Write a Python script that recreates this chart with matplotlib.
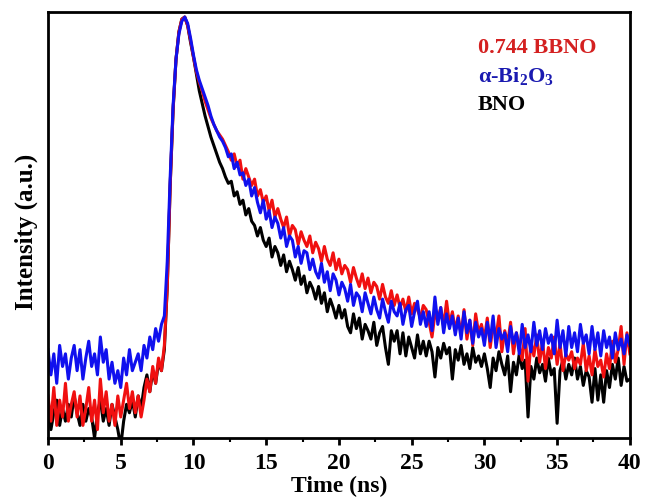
import numpy as np
import matplotlib
matplotlib.use('Agg')
import matplotlib.pyplot as plt
from matplotlib.ticker import MultipleLocator

plt.rcParams['font.family'] = 'Liberation Serif'
plt.rcParams['font.weight'] = 'bold'
plt.rcParams['mathtext.fontset'] = 'custom'
plt.rcParams['mathtext.bf'] = 'Liberation Serif:bold'
plt.rcParams['mathtext.rm'] = 'Liberation Serif:bold'
plt.rcParams['mathtext.default'] = 'bf'

# time channels, 0.2 ns apart
tempo = np.arange(0, 40.001, 0.2)

# 0.744 BBNO
bbno = [
    0.10, 0.04, 0.12, 0.03, 0.09, 0.05, 0.13, 0.04, 0.08, 0.11,
    0.05, 0.10, 0.03, 0.07, 0.12, 0.04, 0.09, 0.02, 0.14, 0.06,
    0.11, 0.04, 0.08, 0.03, 0.10, 0.05, 0.09, 0.13, 0.07, 0.11,
    0.06, 0.10, 0.05, 0.09, 0.14, 0.11, 0.17, 0.13, 0.19, 0.16,
    0.22, 0.36, 0.60, 0.78, 0.90, 0.965, 0.995, 1.00, 0.98, 0.945,
    0.905, 0.87, 0.845, 0.825, 0.80, 0.78, 0.76, 0.745, 0.73, 0.72,
    0.710, 0.695, 0.680, 0.660, 0.675, 0.645, 0.660, 0.615, 0.640, 0.620,
    0.600, 0.615, 0.575, 0.590, 0.560, 0.575, 0.540, 0.565, 0.525, 0.545,
    0.520, 0.500, 0.525, 0.480, 0.505, 0.495, 0.460, 0.490, 0.470, 0.455,
    0.480, 0.440, 0.465, 0.450, 0.420, 0.455, 0.425, 0.410, 0.440, 0.400,
    0.425, 0.390, 0.410, 0.400, 0.370, 0.405, 0.380, 0.360, 0.390, 0.355,
    0.380, 0.345, 0.370, 0.360, 0.330, 0.365, 0.335, 0.320, 0.350, 0.315,
    0.340, 0.310, 0.330, 0.300, 0.335, 0.295, 0.320, 0.305, 0.285, 0.315,
    0.305, 0.275, 0.240, 0.295, 0.280, 0.310, 0.265, 0.325, 0.270, 0.300,
    0.255, 0.290, 0.245, 0.305, 0.235, 0.280, 0.220, 0.295, 0.250, 0.270,
    0.235, 0.285, 0.215, 0.270, 0.240, 0.290, 0.205, 0.255, 0.225, 0.275,
    0.200, 0.250, 0.220, 0.185, 0.260, 0.135, 0.230, 0.195, 0.245, 0.180,
    0.230, 0.165, 0.215, 0.190, 0.240, 0.175, 0.225, 0.160, 0.200, 0.185,
    0.205, 0.165, 0.190, 0.175, 0.225, 0.160, 0.195, 0.150, 0.210, 0.170,
    0.185, 0.145, 0.200, 0.165, 0.230, 0.180, 0.210, 0.265, 0.175, 0.250,
    0.200,
]

# alpha-Bi2O3
bi2o3 = [
    0.21, 0.15, 0.20, 0.13, 0.22, 0.17, 0.20, 0.14, 0.19, 0.22,
    0.16, 0.21, 0.14, 0.19, 0.23, 0.17, 0.20, 0.15, 0.24, 0.18,
    0.21, 0.14, 0.18, 0.13, 0.16, 0.12, 0.19, 0.15, 0.21, 0.16,
    0.18, 0.20, 0.16, 0.22, 0.19, 0.24, 0.21, 0.26, 0.23, 0.27,
    0.29, 0.42, 0.62, 0.79, 0.90, 0.96, 0.99, 1.00, 0.985, 0.95,
    0.91, 0.875, 0.85, 0.83, 0.81, 0.79, 0.765, 0.745, 0.73, 0.715,
    0.705, 0.690, 0.668, 0.675, 0.640, 0.655, 0.625, 0.630, 0.600, 0.615,
    0.575, 0.595, 0.560, 0.535, 0.565, 0.520, 0.540, 0.500, 0.525, 0.510,
    0.475, 0.500, 0.455, 0.480, 0.470, 0.430, 0.455, 0.415, 0.445, 0.440,
    0.400, 0.425, 0.395, 0.380, 0.415, 0.370, 0.395, 0.350, 0.390, 0.375,
    0.340, 0.370, 0.355, 0.325, 0.365, 0.315, 0.345, 0.335, 0.300, 0.345,
    0.320, 0.295, 0.335, 0.305, 0.285, 0.330, 0.300, 0.275, 0.325, 0.300,
    0.290, 0.320, 0.270, 0.305, 0.315, 0.265, 0.300, 0.325, 0.270, 0.300,
    0.265, 0.300, 0.255, 0.335, 0.270, 0.310, 0.250, 0.295, 0.260, 0.290,
    0.245, 0.285, 0.235, 0.300, 0.250, 0.280, 0.225, 0.275, 0.240, 0.260,
    0.220, 0.275, 0.230, 0.290, 0.215, 0.260, 0.235, 0.250, 0.205, 0.265,
    0.225, 0.250, 0.200, 0.270, 0.215, 0.245, 0.205, 0.275, 0.220, 0.255,
    0.210, 0.260, 0.225, 0.245, 0.200, 0.280, 0.215, 0.255, 0.195, 0.265,
    0.215, 0.250, 0.205, 0.270, 0.225, 0.245, 0.200, 0.265, 0.210, 0.250,
    0.195, 0.255, 0.215, 0.240, 0.190, 0.250, 0.210, 0.235, 0.200, 0.245,
    0.220,
]

# BNO
bno = [
    0.07, 0.02, 0.06, 0.09, 0.03, 0.07, 0.04, 0.08, 0.05, 0.10,
    0.06, 0.03, 0.08, 0.04, 0.07, 0.05, 0.00, 0.06, 0.09, 0.04,
    0.07, 0.03, 0.08, 0.05, 0.02, -0.02, 0.04, 0.08, 0.06, 0.09,
    0.05, 0.10, 0.07, 0.12, 0.15, 0.11, 0.16, 0.13, 0.18, 0.16,
    0.21, 0.36, 0.60, 0.78, 0.90, 0.965, 0.995, 1.00, 0.98, 0.94,
    0.905, 0.865, 0.825, 0.795, 0.765, 0.74, 0.715, 0.695, 0.675, 0.655,
    0.640, 0.620, 0.605, 0.610, 0.575, 0.585, 0.555, 0.565, 0.530, 0.545,
    0.515, 0.505, 0.480, 0.500, 0.470, 0.455, 0.475, 0.430, 0.455, 0.440,
    0.410, 0.435, 0.395, 0.420, 0.400, 0.375, 0.405, 0.365, 0.385, 0.345,
    0.370, 0.355, 0.330, 0.360, 0.320, 0.345, 0.300, 0.330, 0.310, 0.285,
    0.315, 0.285, 0.305, 0.265, 0.250, 0.295, 0.260, 0.285, 0.235, 0.270,
    0.255, 0.235, 0.275, 0.220, 0.250, 0.265, 0.215, 0.175, 0.255, 0.230,
    0.255, 0.200, 0.250, 0.195, 0.240, 0.215, 0.190, 0.245, 0.200, 0.230,
    0.195, 0.230, 0.205, 0.145, 0.215, 0.190, 0.225, 0.200, 0.215, 0.140,
    0.210, 0.185, 0.220, 0.175, 0.200, 0.165, 0.215, 0.180, 0.195, 0.170,
    0.200, 0.165, 0.120, 0.190, 0.160, 0.205, 0.175, 0.150, 0.195, 0.110,
    0.180, 0.150, 0.200, 0.165, 0.185, 0.050, 0.170, 0.140, 0.190, 0.155,
    0.175, 0.135, 0.190, 0.150, 0.165, 0.035, 0.160, 0.185, 0.140, 0.175,
    0.150, 0.190, 0.140, 0.170, 0.125, 0.160, 0.145, 0.085, 0.165, 0.090,
    0.150, 0.085, 0.160, 0.120, 0.175, 0.140, 0.190, 0.125, 0.170, 0.135,
    0.140,
]

nomes = ['0.744 BBNO', r'α-Bi$_2$O$_3$', 'BNO']
cores_texto = ['#d42020', '#1a1ab0', 'black']

fig = plt.figure(figsize=(6.46, 5.01), dpi=100)
ax = fig.add_axes([0.0743, 0.1257, 0.9007, 0.8503])

ax.plot(tempo, bno, color='black', lw=2.2)
ax.plot(tempo, bbno, color='#f01010', lw=2.2)
ax.plot(tempo, bi2o3, color='#1010ee', lw=2.2)

ax.set_xlim(0, 40)
ax.set_ylim(0, 1.012)
ax.xaxis.set_major_locator(MultipleLocator(5))
ax.xaxis.set_minor_locator(MultipleLocator(2.5))
ax.tick_params(axis='x', which='major', direction='out', length=5, width=2,
               labelsize=17, pad=6)
ax.tick_params(axis='x', which='minor', direction='out', length=3, width=1.5)
ax.set_yticks([])
for s in ax.spines.values():
    s.set_linewidth(2)

ax.set_xlabel('Time (ns)', fontsize=17, fontweight='bold', labelpad=1)
ax.set_ylabel('Intensity (a.u.)', fontsize=18, fontweight='bold')
ax.yaxis.set_label_coords(-0.0175, 0.484)

ys = [0.916, 0.85, 0.781]
for nome, cor, y in zip(nomes, cores_texto, ys):
    ax.text(0.7385, y, nome, transform=ax.transAxes, color=cor,
            fontsize=16, fontweight='bold', va='center', ha='left')

fig.savefig('out.png', dpi=100)
